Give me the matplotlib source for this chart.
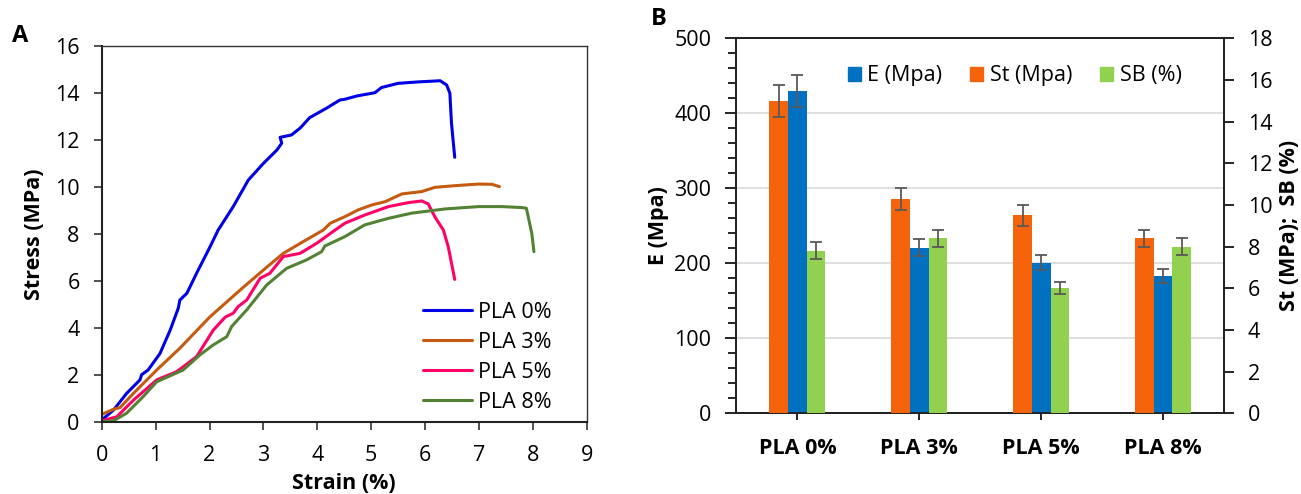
import matplotlib
matplotlib.use("Agg")
import matplotlib.pyplot as plt
import numpy as np
from matplotlib.patches import Patch
from matplotlib.ticker import MultipleLocator

plt.rcParams['font.family'] = ['Open Sans', 'DejaVu Sans']

# ---------------- Data: stress-strain curves ----------------
pla0_strain = [0, 0.22, 0.46, 0.71, 0.74, 0.86, 1.08, 1.27, 1.42, 1.45, 1.58, 1.76, 2.01, 2.16,
               2.44, 2.72, 3.0, 3.25, 3.34, 3.31, 3.52, 3.68, 3.86, 4.17, 4.42, 4.51, 4.73,
               5.07, 5.19, 5.5, 5.87, 6.28, 6.4, 6.46, 6.49, 6.55]
pla0_stress = [0.07, 0.5, 1.2, 1.78, 2.0, 2.2, 2.9, 3.9, 4.83, 5.18, 5.47, 6.32, 7.45, 8.16,
               9.16, 10.29, 11.0, 11.57, 11.86, 12.11, 12.21, 12.5, 12.95, 13.35, 13.7, 13.73, 13.87,
               14.01, 14.23, 14.41, 14.47, 14.52, 14.34, 13.99, 12.71, 11.26]

pla3_strain = [0, 0.22, 0.34, 0.59, 1.02, 1.45, 2.01, 2.57, 3.0, 3.37, 3.74, 4.11, 4.24, 4.51,
               4.76, 5.01, 5.26, 5.57, 5.94, 6.18, 6.55, 6.99, 7.24, 7.38]
pla3_stress = [0.31, 0.53, 0.6, 1.21, 2.2, 3.13, 4.47, 5.61, 6.46, 7.17, 7.67, 8.16, 8.45, 8.73,
               9.02, 9.23, 9.37, 9.7, 9.8, 9.98, 10.05, 10.12, 10.11, 10.01]

pla5_strain = [0, 0.28, 0.59, 1.02, 1.39, 1.76, 2.07, 2.29, 2.44, 2.53, 2.69, 2.94, 3.12, 3.37,
               3.68, 3.99, 4.33, 4.51, 4.88, 5.32, 5.69, 5.94, 6.06, 6.18, 6.34, 6.43, 6.55]
pla5_stress = [0.04, 0.21, 0.92, 1.78, 2.13, 2.77, 3.9, 4.45, 4.62, 4.9, 5.18, 6.11, 6.32, 7.03,
               7.17, 7.6, 8.16, 8.45, 8.8, 9.16, 9.33, 9.4, 9.27, 8.73, 8.16, 7.45, 6.06]

pla8_strain = [0, 0.22, 0.46, 0.77, 1.02, 1.51, 1.82, 2.07, 2.32, 2.41, 2.69, 3.06, 3.43, 3.8,
               4.08, 4.14, 4.51, 4.88, 5.32, 5.75, 6.37, 6.99, 7.42, 7.79, 7.88, 7.98, 8.02]
pla8_stress = [0, 0.04, 0.36, 1.07, 1.7, 2.2, 2.84, 3.27, 3.62, 4.05, 4.76, 5.82, 6.53, 6.89,
               7.24, 7.48, 7.88, 8.38, 8.66, 8.88, 9.06, 9.16, 9.16, 9.12, 9.09, 8.02, 7.24]

curve_labels = ['PLA 0%', 'PLA 3%', 'PLA 5%', 'PLA 8%']

# ---------------- Data: bar chart ----------------
categories = ['PLA 0%', 'PLA 3%', 'PLA 5%', 'PLA 8%']
E_vals = [430, 221, 201, 183]
E_err = [21.5, 11, 10, 9]
St_vals = [15.0, 10.3, 9.5, 8.4]
St_err = [0.76, 0.53, 0.5, 0.42]
SB_vals = [7.8, 8.4, 6.0, 8.0]
SB_err = [0.4, 0.42, 0.28, 0.4]

# ---------------- Figure ----------------
fig = plt.figure(figsize=(13.01, 4.94), dpi=100)
FS = 15.5

# ---- Panel A ----
axA = fig.add_axes([0.0782, 0.1464, 0.3728, 0.7605])
curve_colors = ['#0000E6', '#C55A11', '#FF0066', '#548235']
curves = [(pla0_strain, pla0_stress), (pla3_strain, pla3_stress),
          (pla5_strain, pla5_stress), (pla8_strain, pla8_stress)]
for (xs, ys), c, lab in zip(curves, curve_colors, curve_labels):
    axA.plot(xs, ys, color=c, lw=2.2, label=lab, solid_capstyle='round', solid_joinstyle='round')
axA.set_xlim(0, 9)
axA.set_ylim(0, 16)
axA.xaxis.set_major_locator(MultipleLocator(1))
axA.yaxis.set_major_locator(MultipleLocator(2))
axA.tick_params(direction='out', length=6, width=1.2, labelsize=FS, color='#333333')
axA.tick_params(axis='x', pad=11)
axA.tick_params(axis='y', pad=10)
for s in ['left', 'bottom']:
    axA.spines[s].set_linewidth(1.5)
    axA.spines[s].set_color('#222222')
for s in ['top', 'right']:
    axA.spines[s].set_linewidth(1.0)
    axA.spines[s].set_color('#333333')
axA.set_xlabel('Strain (%)', fontsize=FS, fontweight='bold', labelpad=5)
axA.set_ylabel('Stress (MPa)', fontsize=FS, fontweight='bold', labelpad=7)
legA = axA.legend(loc='lower right', bbox_to_anchor=(0.958, -0.017), frameon=False, fontsize=FS,
                  handlelength=2.3, handletextpad=0.25, labelspacing=0.42, borderpad=0.2)
fig.text(0.0095, 0.915, 'A', fontsize=17, fontweight='bold')

# ---- Panel B ----
axB = fig.add_axes([0.566, 0.1634, 0.3749, 0.7591])
axB2 = axB.twinx()
x = np.arange(len(categories)) + 0.5
w = 0.153
err_kw = dict(ecolor='#595959', elinewidth=1.3, capsize=4.5, capthick=1.3)
bE = axB.bar(x, E_vals, w, color='#0070C0', yerr=E_err, error_kw=err_kw, zorder=3)
bSt = axB2.bar(x - w, St_vals, w, color='#F5630A', yerr=St_err, error_kw=err_kw, zorder=3)
bSB = axB2.bar(x + w, SB_vals, w, color='#92D050', yerr=SB_err, error_kw=err_kw, zorder=3)
axB.set_xlim(0, 4)
axB.set_ylim(0, 500)
axB2.set_ylim(0, 18)
axB.yaxis.set_major_locator(MultipleLocator(100))
axB.yaxis.set_minor_locator(MultipleLocator(20))
axB2.yaxis.set_major_locator(MultipleLocator(2))
axB.set_xticks(x)
axB.set_xticklabels(categories, fontsize=FS, fontweight='bold')
axB.grid(axis='y', color='#D9D9D9', lw=1.2, zorder=0)
axB.set_axisbelow(True)
axB.tick_params(axis='y', which='major', direction='out', length=8, width=1.2, labelsize=FS, pad=10)
axB.tick_params(axis='y', which='minor', direction='out', length=6, width=1.2)
axB.tick_params(axis='x', direction='out', length=5, width=1.2, pad=13)
axB2.tick_params(axis='y', direction='out', length=7, width=1.2, labelsize=FS, pad=10)
for a in (axB, axB2):
    for s in a.spines.values():
        s.set_linewidth(1.3)
        s.set_color('#222222')
axB.set_ylabel('E (Mpa)', fontsize=FS, fontweight='bold', labelpad=4)
axB2.set_ylabel('St (MPa);  SB (%)', fontsize=FS, fontweight='bold', labelpad=5)
handles = [Patch(color='#0070C0'), Patch(color='#F5630A'), Patch(color='#92D050')]
axB2.legend(handles, ['E (Mpa)', 'St (Mpa)', 'SB (%)'], loc='center left',
            bbox_to_anchor=(0.207, 0.9), ncol=3, frameon=False, fontsize=FS,
            handlelength=0.6, handleheight=0.6, handletextpad=0.3, columnspacing=1.3,
            borderpad=0)
fig.text(0.5005, 0.95, 'B', fontsize=17, fontweight='bold')

fig.savefig('out.png', dpi=100)
